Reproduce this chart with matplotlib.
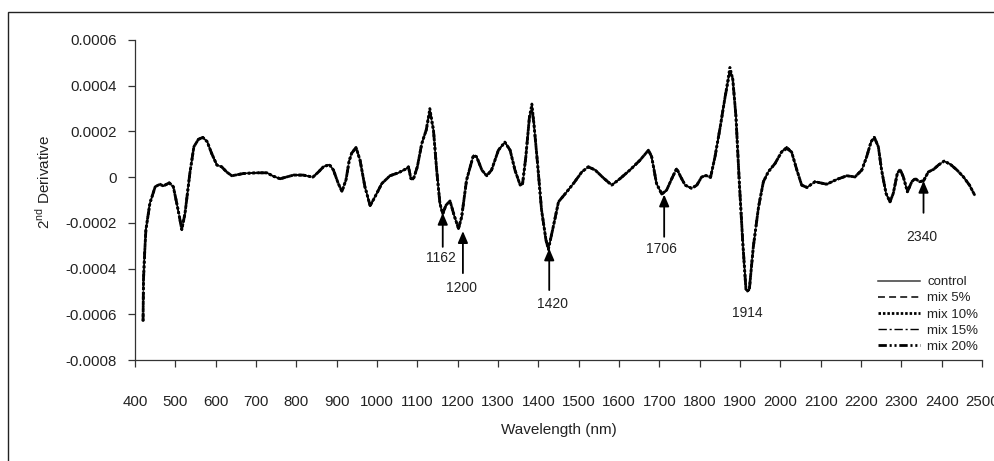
import matplotlib
matplotlib.use("Agg")
import matplotlib.pyplot as plt
from matplotlib.patches import Rectangle
import numpy as np

plt.rcParams['font.family'] = ['Liberation Sans', 'DejaVu Sans']
plt.rcParams['mathtext.fontset'] = 'custom'
plt.rcParams['mathtext.rm'] = 'Liberation Sans'
plt.rcParams['lines.scale_dashes'] = False

# ---------------- data ----------------
wavelength = [420, 421, 424, 427, 437, 450, 462, 470, 485, 495, 507, 516, 524, 536, 546,
              557, 568, 579, 590, 603, 615, 627, 640, 669, 702, 727, 743, 760, 776, 793,
              817, 841, 855, 867, 882, 892, 904, 913, 923, 931, 937, 948, 958, 970, 983,
              995, 1012, 1032, 1053, 1074, 1078, 1084, 1090, 1100, 1111, 1122, 1131, 1140,
              1148, 1156, 1163, 1171, 1181, 1191, 1202, 1210, 1222, 1239, 1247, 1260, 1272,
              1284, 1301, 1317, 1330, 1342, 1355, 1361, 1369, 1378, 1384, 1389, 1398, 1408,
              1419, 1425, 1437, 1450, 1466, 1487, 1508, 1524, 1541, 1561, 1582, 1603, 1627,
              1652, 1673, 1681, 1693, 1706, 1718, 1731, 1743, 1753, 1764, 1780, 1793, 1805,
              1816, 1827, 1838, 1851, 1863, 1875, 1882, 1890, 1898, 1907, 1915, 1923, 1933,
              1946, 1958, 1970, 1987, 2003, 2016, 2028, 2041, 2053, 2066, 2086, 2115, 2140,
              2165, 2185, 2202, 2214, 2225, 2233, 2243, 2251, 2262, 2272, 2280, 2290, 2297,
              2305, 2315, 2326, 2334, 2345, 2355, 2367, 2380, 2392, 2406, 2421, 2438, 2454,
              2469, 2482]

# control spectrum, values in units of 1e-4
control_e4 = [-6.3, -4.5, -3.3, -2.3, -1.14, -0.42, -0.31, -0.39, -0.25, -0.42, -1.44, -2.3,
              -1.58, 0.17, 1.33, 1.65, 1.74, 1.55, 1.04, 0.53, 0.45, 0.23, 0.06, 0.16, 0.19,
              0.19, 0.04, -0.07, 0.01, 0.09, 0.09, 0.0, 0.23, 0.45, 0.55, 0.31, -0.28, -0.62,
              -0.13, 0.71, 1.04, 1.3, 0.74, -0.42, -1.25, -0.86, -0.28, 0.06, 0.19, 0.38,
              0.45, -0.06, -0.1, 0.45, 1.47, 2.06, 2.9, 2.06, 0.3, -1.15, -1.6, -1.23, -1.04,
              -1.66, -2.25, -1.73, -0.13, 0.95, 0.89, 0.31, 0.06, 0.31, 1.18, 1.53, 1.18,
              0.31, -0.35, -0.28, 0.89, 2.64, 3.05, 2.35, 0.6, -1.44, -2.76, -3.15, -2.17,
              -1.08, -0.74, -0.28, 0.23, 0.45, 0.31, -0.03, -0.35, -0.06, 0.31, 0.74, 1.18,
              0.89, -0.28, -0.74, -0.57, -0.06, 0.38, 0.01, -0.35, -0.49, -0.35, 0.01, 0.07,
              -0.01, 0.89, 2.2, 3.51, 4.65, 4.3, 2.64, -0.13, -2.9, -4.95, -4.95, -3.05,
              -1.3, -0.2, 0.23, 0.6, 1.1, 1.33, 1.1, 0.31, -0.35, -0.45, -0.2, -0.31, -0.1,
              0.06, 0.01, 0.31, 0.89, 1.55, 1.74, 1.33, 0.31, -0.71, -1.08, -0.71, 0.16,
              0.34, 0.01, -0.64, -0.2, -0.06, -0.2, -0.16, 0.23, 0.34, 0.53, 0.7, 0.57,
              0.31, 0.01, -0.35, -0.79]

# the mixes lie on the control curve except at a few points (wavelength: value in 1e-4)
mix5_diff_e4 = {1131: 2.95, 1384: 3.15, 1875: 4.75, 1425: -3.2}
mix10_diff_e4 = {1131: 3.0, 1384: 3.2, 1875: 4.8, 1915: -5.0, 2016: 1.3}
mix15_diff_e4 = {1131: 2.95, 1384: 3.1, 1875: 4.7, 1163: -1.7}
mix20_diff_e4 = {1131: 2.85, 1384: 3.0, 1875: 4.6, 2016: 1.25}

series_labels = ['control', 'mix 5%', 'mix 10%', 'mix 15%', 'mix 20%']

y_ticks = [0.0006, 0.0004, 0.0002, 0, -0.0002, -0.0004, -0.0006, -0.0008]
y_tick_labels = ['0.0006', '0.0004', '0.0002', '0', '-0.0002', '-0.0004', '-0.0006', '-0.0008']
x_ticks = list(range(400, 2501, 100))

peak_labels = ['1162', '1200', '1420', '1706', '2340']
# ---------------------------------------------------------------

wl = np.array(wavelength, dtype=float)
ctrl = np.array(control_e4) * 1e-4


def build(diff):
    vals = np.array(control_e4, dtype=float)
    for k, v in diff.items():
        vals[wavelength.index(k)] = v
    return vals * 1e-4


series = [ctrl, build(mix5_diff_e4), build(mix10_diff_e4), build(mix15_diff_e4), build(mix20_diff_e4)]

W, H = 995, 461
fig = plt.figure(figsize=(W / 100, H / 100), dpi=100)
ax = fig.add_axes([135 / W, 1 - 360 / H, (982 - 135) / W, 320 / H])

styles = [
    dict(color='#3a3a3a', lw=1.1, ls='-'),
    dict(color='black', lw=1.1, dashes=(5, 3)),
    dict(color='black', lw=2.0, dashes=(1.8, 1.4)),
    dict(color='black', lw=1.0, dashes=(6, 2, 1.5, 2)),
    dict(color='black', lw=2.0, dashes=(6, 2, 1.5, 2, 1.5, 2)),
]
for s, st, lab in zip(series, styles, series_labels):
    ax.plot(wl, s, label=lab, **st)

ax.set_xlim(400, 2500)
ax.set_ylim(-0.0008, 0.0006)
ax.set_xticks(x_ticks)
ax.set_xticklabels([str(t) for t in x_ticks])
ax.set_yticks(y_ticks)
ax.set_yticklabels(y_tick_labels)

tc = '#222222'
for sp in ['top', 'right']:
    ax.spines[sp].set_visible(False)
for sp in ['left', 'bottom']:
    ax.spines[sp].set_color('#333333')
    ax.spines[sp].set_linewidth(0.9)
ax.tick_params(axis='y', direction='out', length=5, width=0.9, color='#333333',
               labelsize=10.8, labelcolor=tc, pad=8)
ax.tick_params(axis='x', direction='out', length=5, width=0.9, color='#333333',
               labelsize=10.8, labelcolor=tc, pad=20)

ax.set_xlabel('Wavelength (nm)', fontsize=11, color=tc, labelpad=10)
fig.text(43 / W, 1 - 182 / H, r'2$^{\mathregular{nd}}$ Derivative', rotation=90,
         ha='center', va='center', fontsize=11, color=tc)

# annotations: (label, x, tip y, tail y, text x, text y)
ann = [
    (peak_labels[0], 1163, -1.56e-4, -3.05e-4, 1158, -3.53e-4),
    (peak_labels[1], 1213, -2.36e-4, -4.20e-4, 1210, -4.83e-4),
    (peak_labels[2], 1427, -3.12e-4, -4.94e-4, 1434, -5.53e-4),
    (peak_labels[3], 1712, -0.76e-4, -2.61e-4, 1706, -3.15e-4),
    (peak_labels[4], 2355, -0.16e-4, -1.56e-4, 2351, -2.61e-4),
]
for lab, x, ytip, ytail, tx, ty in ann:
    ax.annotate('', xy=(x, ytip), xytext=(x, ytail),
                arrowprops=dict(arrowstyle='-|>,head_length=0.7,head_width=0.3',
                                color='black', lw=1.3, shrinkA=0, shrinkB=0))
    ax.text(tx, ty, lab, ha='center', va='center', fontsize=10, color=tc)
ax.text(1917, -5.96e-4, '1914', ha='center', va='center', fontsize=10, color=tc)

leg = ax.legend(loc='upper left', bbox_to_anchor=(878 / W, 1 - 276 / H),
                bbox_transform=fig.transFigure, frameon=False, fontsize=9.5,
                handlelength=3.2, handletextpad=0.55, labelspacing=0.3,
                borderpad=0, borderaxespad=0)
for t in leg.get_texts():
    t.set_color(tc)

fig.add_artist(Rectangle((8 / W, -0.2), 1.5, 1 - 12 / H + 0.2, transform=fig.transFigure,
                         fill=False, ec='#222222', lw=1.0, clip_on=False))

fig.savefig('out.png', dpi=100)
